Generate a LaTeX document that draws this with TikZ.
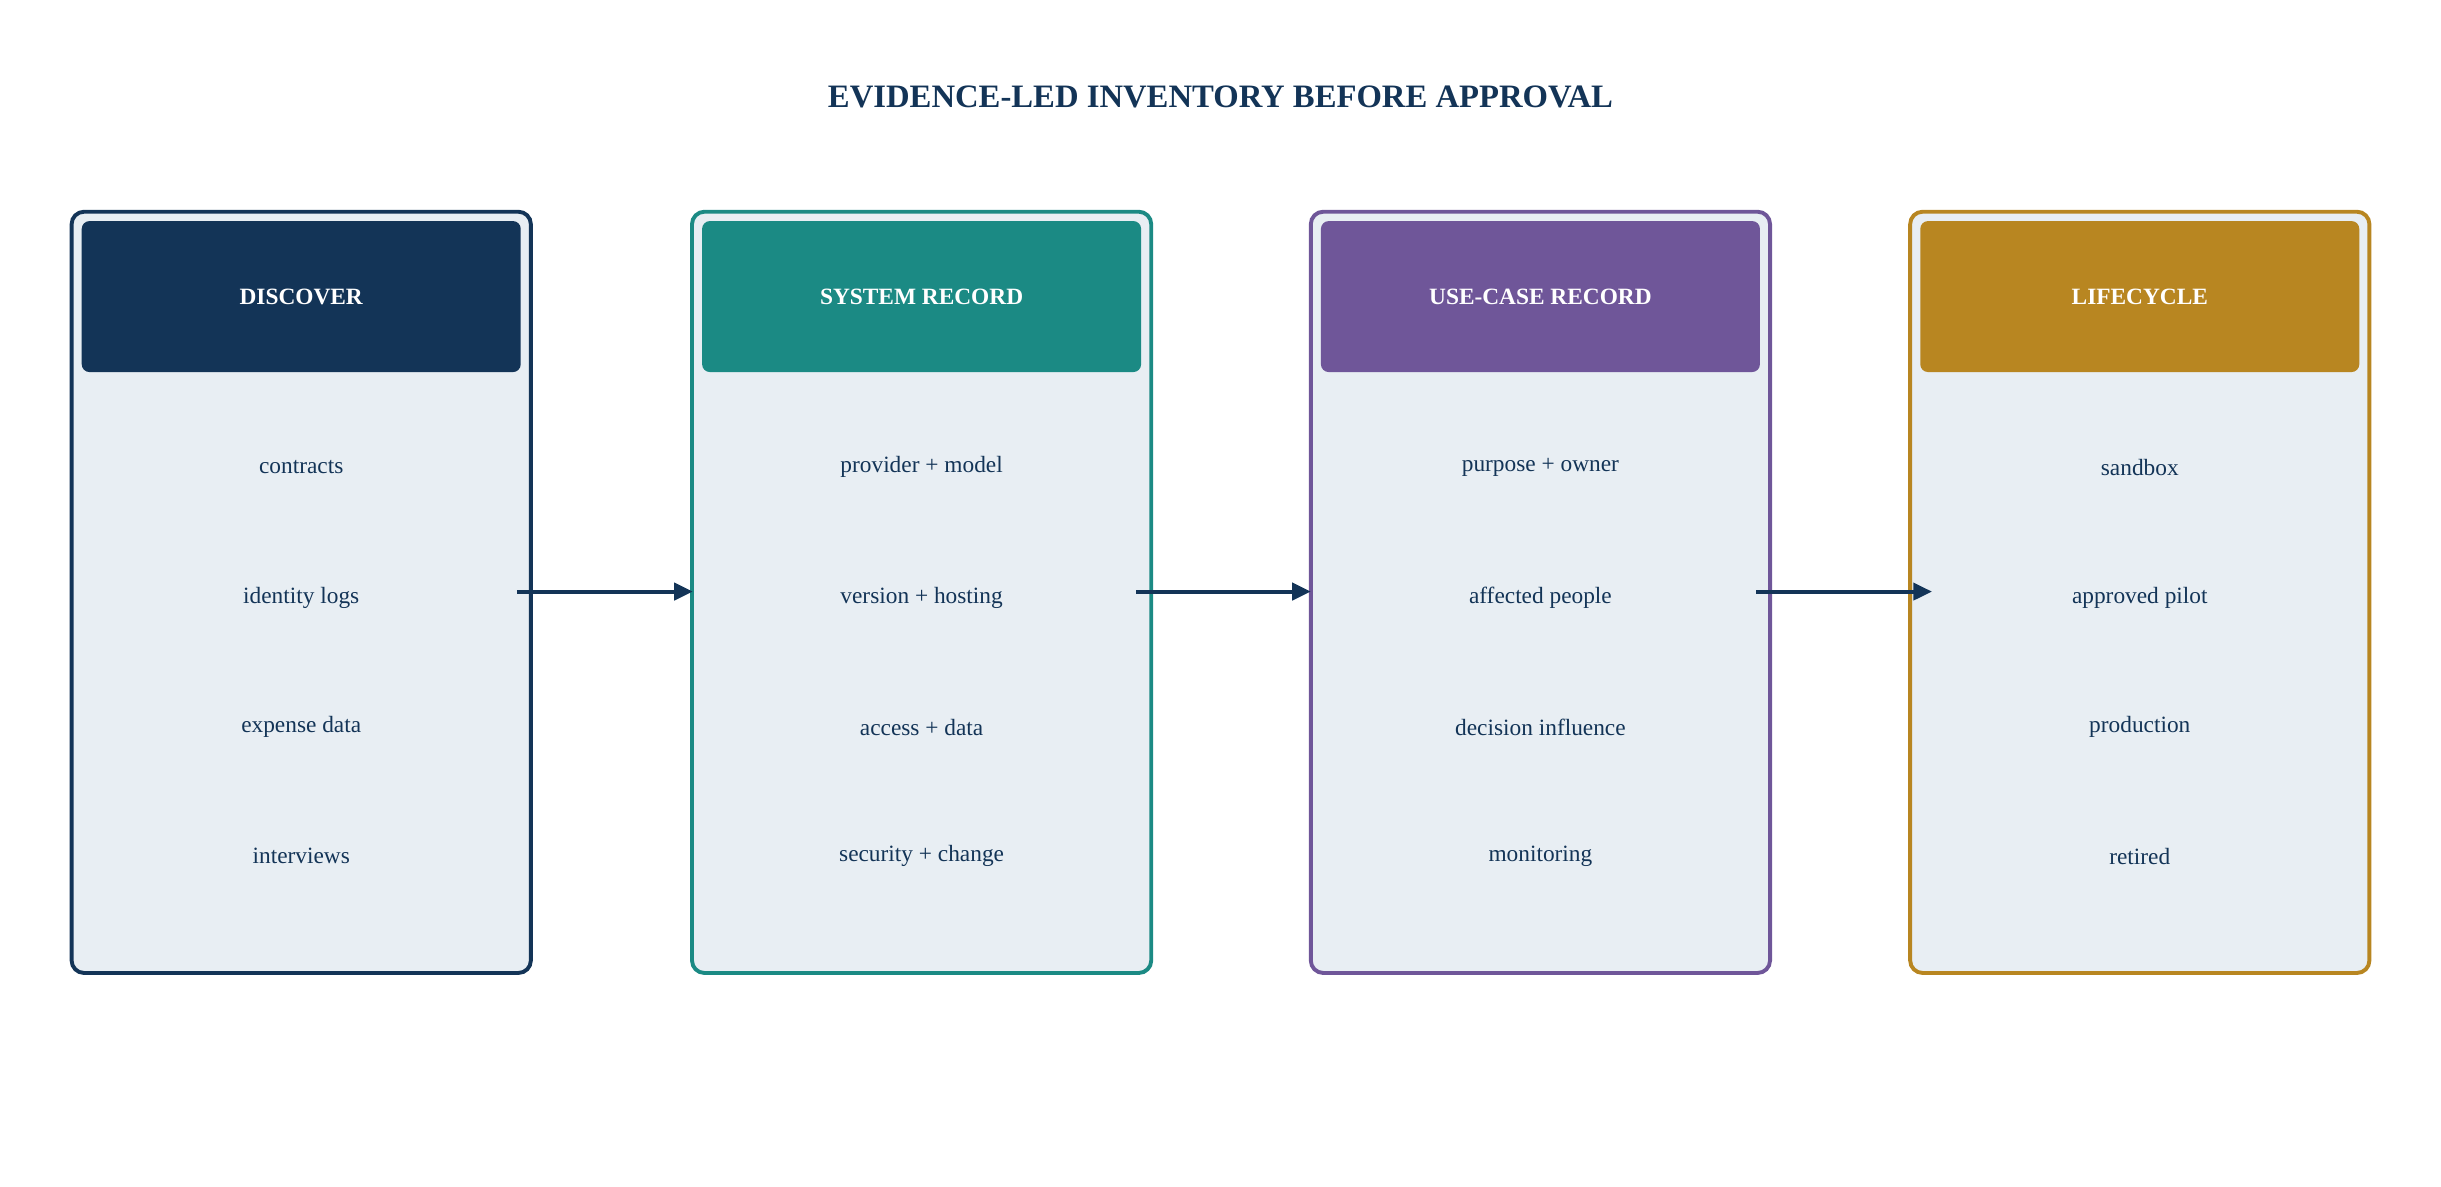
\documentclass[tikz,border=0pt]{standalone}
\usepackage{fontspec}
\setmainfont{Liberation Serif}
\usetikzlibrary{arrows.meta}
\definecolor{navy}{HTML}{133457}
\definecolor{teal2}{HTML}{1B8A84}
\definecolor{purp}{HTML}{6F5699}
\definecolor{gold}{HTML}{B88621}
\definecolor{panel}{HTML}{E8EEF3}
\begin{document}
\begin{tikzpicture}[x=1pt,y=-1pt,
  panelbox/.style={draw=#1,fill=panel,line width=2.5pt,rounded corners=8pt,minimum width=295pt,minimum height=489pt,inner sep=0pt},
  head/.style={fill=#1,rounded corners=5pt,minimum width=282pt,minimum height=97pt,inner sep=0pt,text=white,font=\fontsize{15}{18}\selectfont\bfseries},
  item/.style={text=navy,font=\fontsize{15}{18}\selectfont},
  conn/.style={draw=navy,line width=2.5pt,-{Triangle[length=12pt,width=11pt]}}]
\useasboundingbox (0,0) rectangle (1568,762);
\node[text=navy,font=\fontsize{21}{25}\selectfont\bfseries] (title) at (784,62) {EVIDENCE-LED INVENTORY BEFORE APPROVAL};
\foreach \n/\x/\c/\h/\a/\b/\cc/\d in {
 1/193.5/navy/DISCOVER/contracts/identity logs/expense data/interviews,
 2/592/teal2/SYSTEM RECORD/provider + model/version + hosting/access + data/security + change,
 3/989.5/purp/USE-CASE RECORD/purpose + owner/affected people/decision influence/monitoring,
 4/1374.5/gold/LIFECYCLE/sandbox/approved pilot/production/retired}{
  \node[panelbox=\c] (p\n) at (\x,380.5) {};
  \node[head=\c] (h\n) at (\x,190.5) {\h};
  \node[item] (i\n a) at (\x,300) {\a};
  \node[item] (i\n b) at (\x,384) {\b};
  \node[item] (i\n c) at (\x,467) {\cc};
  \node[item] (i\n d) at (\x,550) {\d};
}
\coordinate (s1) at (332,380); \coordinate (e1) at (445,380);
\coordinate (s2) at (730,380); \coordinate (e2) at (842,380);
\coordinate (s3) at (1128,380); \coordinate (e3) at (1241,380);
\draw[conn] (s1) -- (e1);
\draw[conn] (s2) -- (e2);
\draw[conn] (s3) -- (e3);
\end{tikzpicture}
\end{document}
